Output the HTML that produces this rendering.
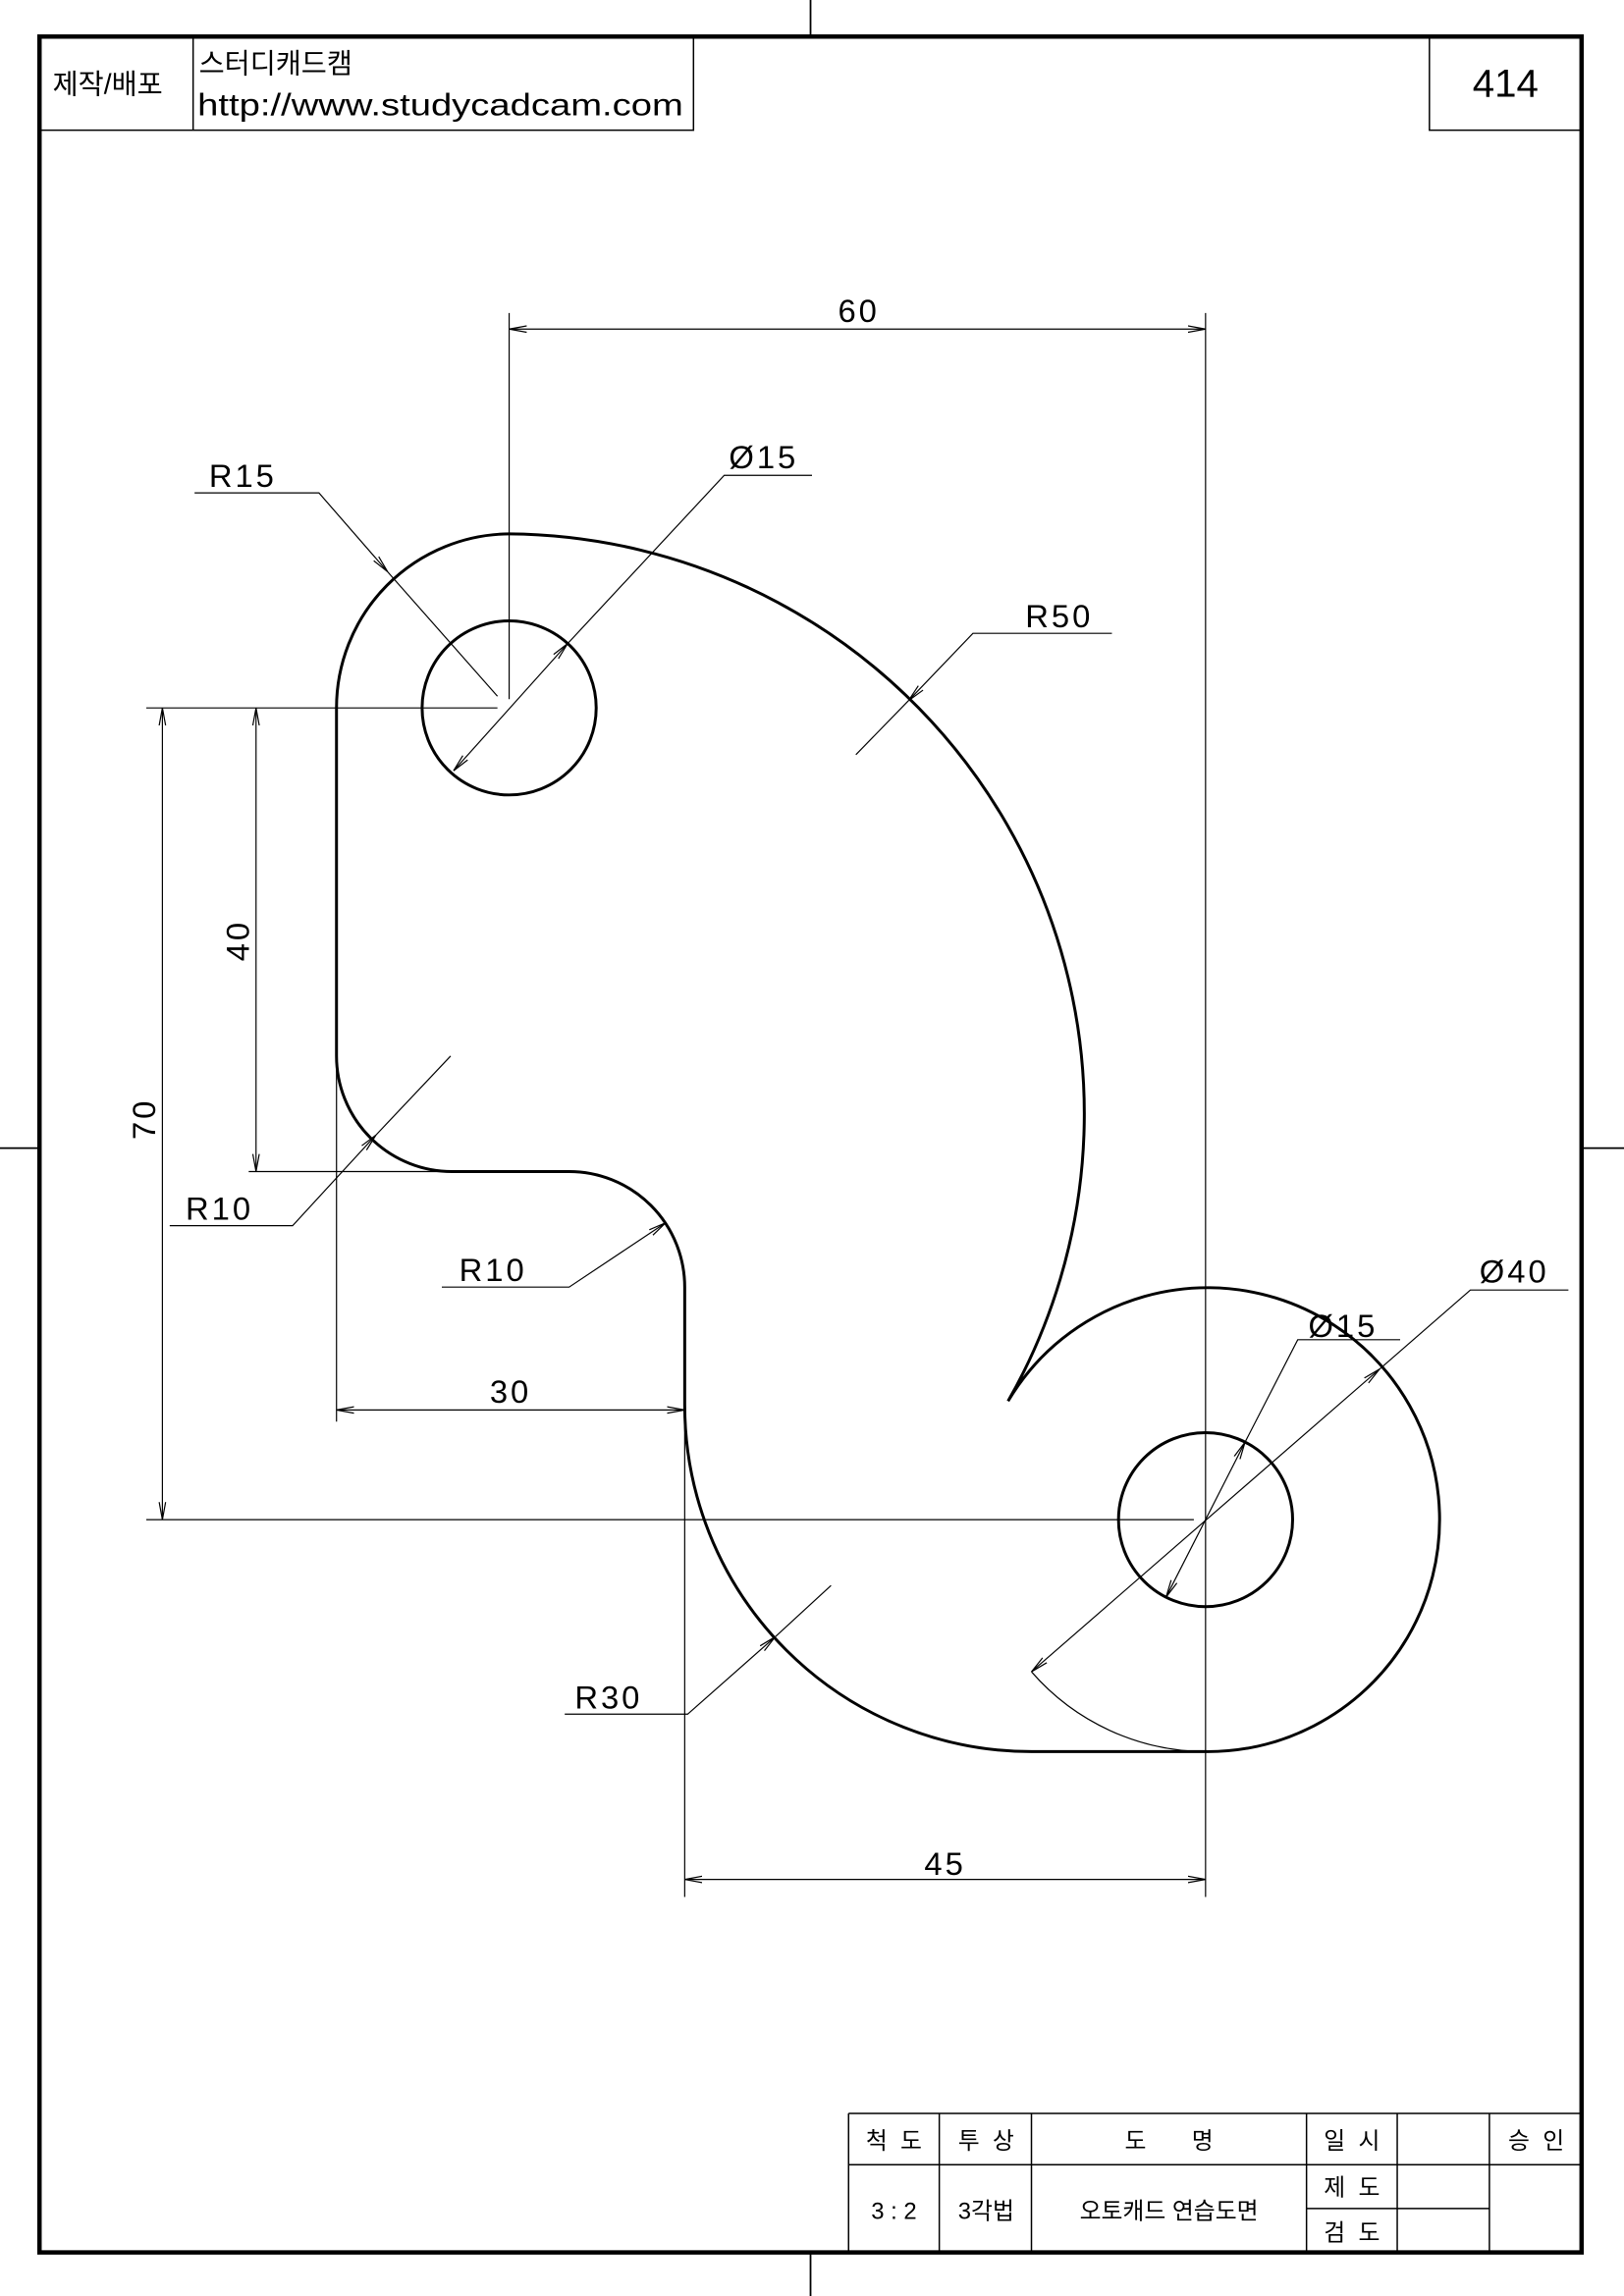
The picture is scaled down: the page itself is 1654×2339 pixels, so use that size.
<!DOCTYPE html>
<html><head><meta charset="utf-8"><style>
html,body{margin:0;padding:0;background:#fff;}
svg{display:block;}
text{font-family:"Liberation Sans","Noto Sans CJK KR",sans-serif;fill:#000;}
</style></head><body>
<svg width="1654" height="2339" viewBox="0 0 1110 1569.8" preserveAspectRatio="none" xmlns="http://www.w3.org/2000/svg">
<defs>
<marker id="a" viewBox="0 0 12 6" refX="12" refY="3" markerWidth="12" markerHeight="6" markerUnits="userSpaceOnUse" orient="auto-start-reverse">
<path d="M0,0.8 L12,3 L0,5.2" fill="none" stroke="#000" stroke-width="0.8"/>
</marker>
</defs>
<rect x="0" y="0" width="1110" height="1570" fill="#fff"/>
<rect x="27" y="25" width="1054" height="1515" fill="none" stroke="#000" stroke-width="3"/>
<g stroke="#000" stroke-width="1.2">
<line x1="554" y1="0" x2="554" y2="25"/><line x1="554" y1="1540" x2="554" y2="1570"/>
<line x1="0" y1="785" x2="27" y2="785"/><line x1="1081" y1="785" x2="1110" y2="785"/>
</g>
<g fill="none" stroke="#000" stroke-width="1">
<polyline points="27,89 474,89 474,25"/>
<line x1="132" y1="25" x2="132" y2="89"/>
<polyline points="977,25 977,89 1081,89"/>
</g>
<text x="36" y="64" font-size="19">제작/배포</text>
<text x="136" y="50" font-size="19">스터디캐드캠</text>
<text x="135" y="79" font-size="21" textLength="332" lengthAdjust="spacingAndGlyphs">http://www.studycadcam.com</text>
<text x="1029" y="66" font-size="27" text-anchor="middle">414</text>
<g fill="none" stroke="#000" stroke-width="1">
<line x1="580" y1="1445" x2="1081" y2="1445"/>
<line x1="580" y1="1480" x2="1081" y2="1480"/>
<line x1="893" y1="1510" x2="1018" y2="1510"/>
<line x1="580" y1="1445" x2="580" y2="1540"/>
<line x1="642" y1="1445" x2="642" y2="1540"/>
<line x1="705" y1="1445" x2="705" y2="1540"/>
<line x1="893" y1="1445" x2="893" y2="1540"/>
<line x1="955" y1="1445" x2="955" y2="1540"/>
<line x1="1018" y1="1445" x2="1018" y2="1540"/>
</g>
<g font-size="16" text-anchor="middle">
<text x="611" y="1469">척 &#160;도</text>
<text x="674" y="1469">투 &#160;상</text>
<text x="799" y="1469">도 &#160; &#160; &#160; 명</text>
<text x="924" y="1469">일 &#160;시</text>
<text x="1050" y="1469">승 &#160;인</text>
<text x="611" y="1517">3 : 2</text>
<text x="674" y="1517">3각법</text>
<text x="799" y="1517">오토캐드 연습도면</text>
<text x="924" y="1501">제 &#160;도</text>
<text x="924" y="1532">검 &#160;도</text>
</g>
<path d="M230,484 A119,119 0 0 1 348,365 A396.5,396.5 0 0 1 689,958 A158.6,158.6 0 1 1 824,1197.6 L705,1197.6 A237,237 0 0 1 468,960.6 L468,880 A79,79 0 0 0 389,801 L309,801 A79,79 0 0 1 230,722 Z" fill="none" stroke="#000" stroke-width="2"/>
<circle cx="348" cy="484" r="59.5" fill="none" stroke="#000" stroke-width="2"/>
<circle cx="824" cy="1039" r="59.5" fill="none" stroke="#000" stroke-width="2"/>
<g fill="none" stroke="#000" stroke-width="0.8">
<line x1="348" y1="214" x2="348" y2="478"/>
<line x1="824" y1="214" x2="824" y2="1297"/>
<line x1="100" y1="484" x2="340" y2="484"/>
<line x1="170" y1="801" x2="309" y2="801"/>
<line x1="100" y1="1039" x2="816" y2="1039"/>
<line x1="230" y1="722" x2="230" y2="972"/>
<line x1="468" y1="965" x2="468" y2="1297"/>
<line x1="348" y1="225" x2="824" y2="225" marker-start="url(#a)" marker-end="url(#a)"/>
<line x1="175" y1="484" x2="175" y2="801" marker-start="url(#a)" marker-end="url(#a)"/>
<line x1="111" y1="484" x2="111" y2="1039" marker-start="url(#a)" marker-end="url(#a)"/>
<line x1="230" y1="964" x2="468" y2="964" marker-start="url(#a)" marker-end="url(#a)"/>
<line x1="468" y1="1285" x2="824" y2="1285" marker-start="url(#a)" marker-end="url(#a)"/>
<polyline points="133,337 218,337 265,391" marker-end="url(#a)"/>
<line x1="265" y1="391" x2="340" y2="476"/>
<polyline points="555,325 495,325 388,440" />
<line x1="310" y1="527" x2="388" y2="440" marker-start="url(#a)" marker-end="url(#a)"/>
<polyline points="760,433 665,433 621,479" marker-end="url(#a)"/>
<line x1="621" y1="479" x2="585" y2="516"/>
<polyline points="116,838 200,838 257,776" marker-end="url(#a)"/>
<line x1="257" y1="776" x2="308" y2="722"/>
<polyline points="302,880 389,880 455,836" marker-end="url(#a)"/>
<polyline points="386,1172 470,1172 530,1119" marker-end="url(#a)"/>
<line x1="530" y1="1119" x2="568" y2="1084"/>
<polyline points="957,916 887,916 851,986"/>
<line x1="797" y1="1092" x2="851" y2="986" marker-start="url(#a)" marker-end="url(#a)"/>
<polyline points="1072,882 1005,882 943,936"/>
<line x1="705" y1="1143" x2="943" y2="936" marker-start="url(#a)" marker-end="url(#a)"/>
<path d="M705,1143 A158.6,158.6 0 0 0 824,1197.6"/>
</g>
<g font-size="22" letter-spacing="2">
<text x="587" y="220" text-anchor="middle">60</text>
<text x="166" y="333" text-anchor="middle">R15</text>
<text x="522" y="320" text-anchor="middle">Ø15</text>
<text x="724" y="429" text-anchor="middle">R50</text>
<text x="150" y="834" text-anchor="middle">R10</text>
<text x="337" y="876" text-anchor="middle">R10</text>
<text x="349" y="959" text-anchor="middle">30</text>
<text x="416" y="1168" text-anchor="middle">R30</text>
<text x="646" y="1282" text-anchor="middle">45</text>
<text x="918" y="914" text-anchor="middle">Ø15</text>
<text x="1035" y="877" text-anchor="middle">Ø40</text>
<text x="0" y="0" text-anchor="middle" transform="translate(170,643) rotate(-90)">40</text>
<text x="0" y="0" text-anchor="middle" transform="translate(106,765) rotate(-90)">70</text>
</g>
</svg>
</body></html>
